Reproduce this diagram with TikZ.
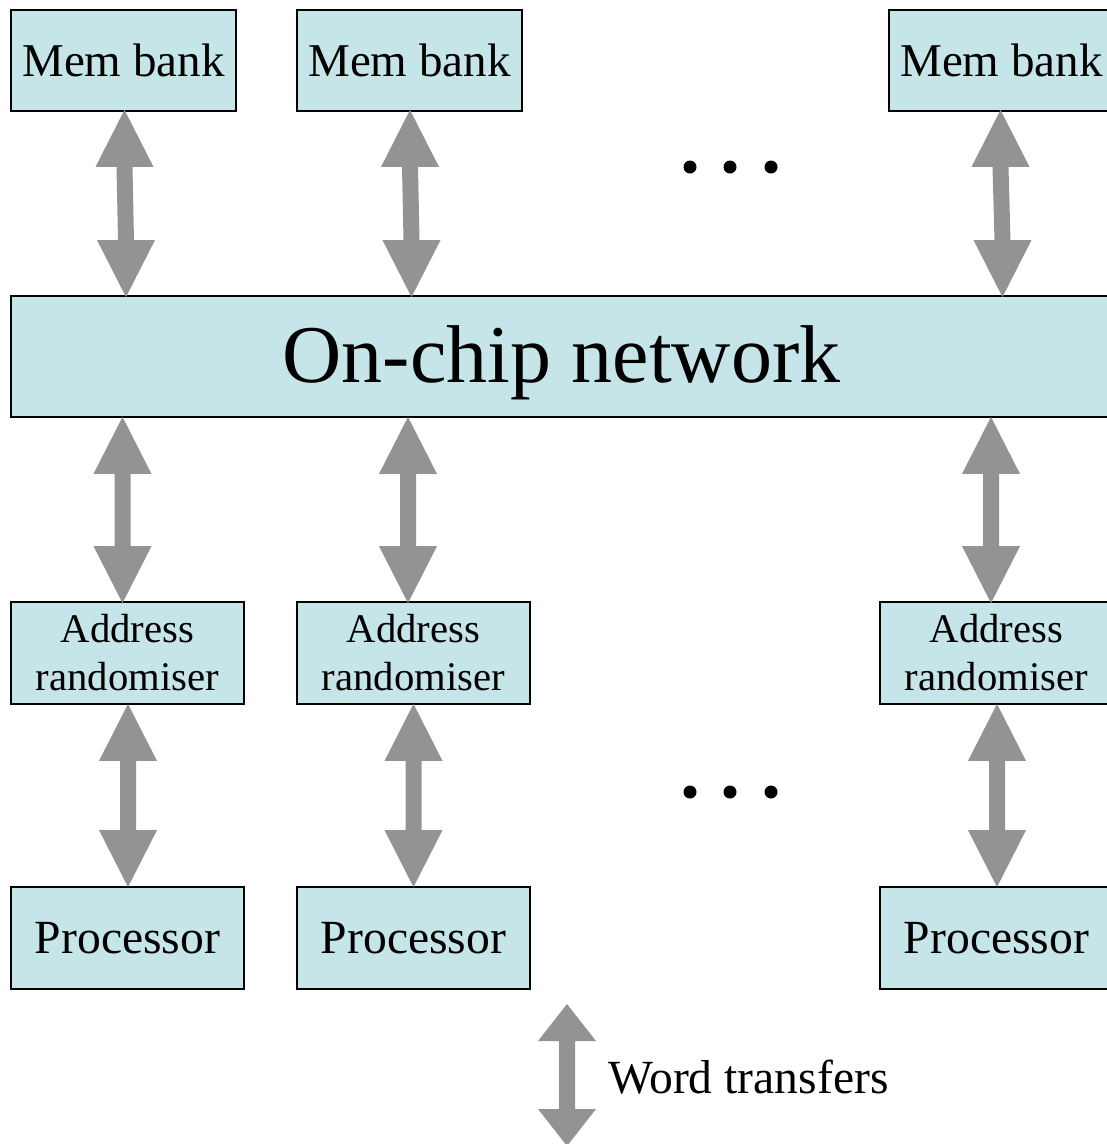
\documentclass[tikz,border=0pt]{standalone}
\usepackage{fontspec}
\setmainfont{Liberation Serif}
\usetikzlibrary{calc}
\definecolor{boxfill}{HTML}{C6E5E8}
\definecolor{arrowgray}{HTML}{939393}
\tikzset{
  unit/.style={draw=black, line width=1.8pt, fill=boxfill, inner sep=0pt, align=center},
  membox/.style={unit, minimum width=225pt, minimum height=101pt,
    font=\fontsize{47}{56}\selectfont},
  netbox/.style={unit, minimum width=1103pt, minimum height=121pt},
  randbox/.style={unit, minimum width=233pt, minimum height=102pt,
    font=\fontsize{40.7}{48}\selectfont},
  procbox/.style={unit, minimum width=233pt, minimum height=102pt,
    font=\fontsize{47.6}{56}\selectfont},
  dot/.style={fill=black},
}
% wide grey double-headed arrow between two points (#2 upper tip, #3 lower tip);
% optional #1 is the length of each head
\newcommand\twoway[3][57pt]{%
  \fill[arrowgray] let \p1=#2, \p2=#3 in
    (\x1,\y1) -- (\x1+29pt,\y1-#1) -- (\x1+8pt,\y1-#1)
    -- (\x2+8pt,\y2+#1) -- (\x2+29pt,\y2+#1) -- (\x2,\y2)
    -- (\x2-29pt,\y2+#1) -- (\x2-8pt,\y2+#1)
    -- (\x1-8pt,\y1-#1) -- (\x1-29pt,\y1-#1) -- cycle;}
\begin{document}
\begin{tikzpicture}[x=1pt,y=-1pt]
\useasboundingbox (0,0) rectangle (1107,1144);
\clip (0,0) rectangle (1107,1144);

% memory banks
\node[membox] (mb1) at (123.5,60.5) {Mem bank};
\node[membox] (mb2) at (409.5,60.5) {Mem bank};
\node[membox] (mb3) at (1001.5,60.5) {Mem bank};

% interconnect
\node[netbox] (net) at (562.5,356.5) {};
\node[font=\fontsize{82}{90}\selectfont, inner sep=0pt, anchor=base] (netl) at (561.5,382) {On-chip network};

% address randomisers
\node[randbox] (ar1) at (127.5,653) {Address\\randomiser};
\node[randbox] (ar2) at (413.5,653) {Address\\randomiser};
\node[randbox] (ar3) at (996.5,653) {Address\\randomiser};

% processors
\node[procbox] (pr1) at (127.5,938) {Processor};
\node[procbox] (pr2) at (413.5,938) {Processor};
\node[procbox] (pr3) at (996.5,938) {Processor};

% memory banks <-> network
\twoway{($(mb1.south)+(1,-2)$)}{($(net.north -| mb1.south)+(2.5,2)$)}
\twoway{($(mb2.south)+(0.5,-2)$)}{($(net.north -| mb2.south)+(2,2)$)}
\twoway{($(mb3.south)+(-1,-2)$)}{($(net.north -| mb3.south)+(1,2)$)}

% network <-> randomisers
\twoway{($(net.south -| ar1.north)+(-5,-1)$)}{($(ar1.north)+(-5,2)$)}
\twoway{($(net.south -| ar2.north)+(-5.5,-1)$)}{($(ar2.north)+(-5.5,2)$)}
\twoway{($(net.south -| ar3.north)+(-5.5,-1)$)}{($(ar3.north)+(-5.5,2)$)}

% randomisers <-> processors
\twoway{($(ar1.south)+(0.5,-1)$)}{($(pr1.north)+(0.5,1)$)}
\twoway{($(ar2.south)+(0,-1)$)}{($(pr2.north)+(0,1)$)}
\twoway{($(ar3.south)+(0.5,-1)$)}{($(pr3.north)+(0.5,1)$)}

% ellipses between columns
\foreach \yy in {167,792} {
  \foreach \xx in {690,730,771} {
    \fill[dot] (\xx,\yy) circle (6.5pt);
  }
}

% legend
\coordinate (wt1) at (567,1004);
\coordinate (wt2) at (567,1146);
\twoway[37pt]{(wt1)}{(wt2)}
\node[anchor=west, inner sep=0pt, font=\fontsize{47.6}{56}\selectfont] (wtl) at (608,1077) {Word transfers};
\end{tikzpicture}
\end{document}
